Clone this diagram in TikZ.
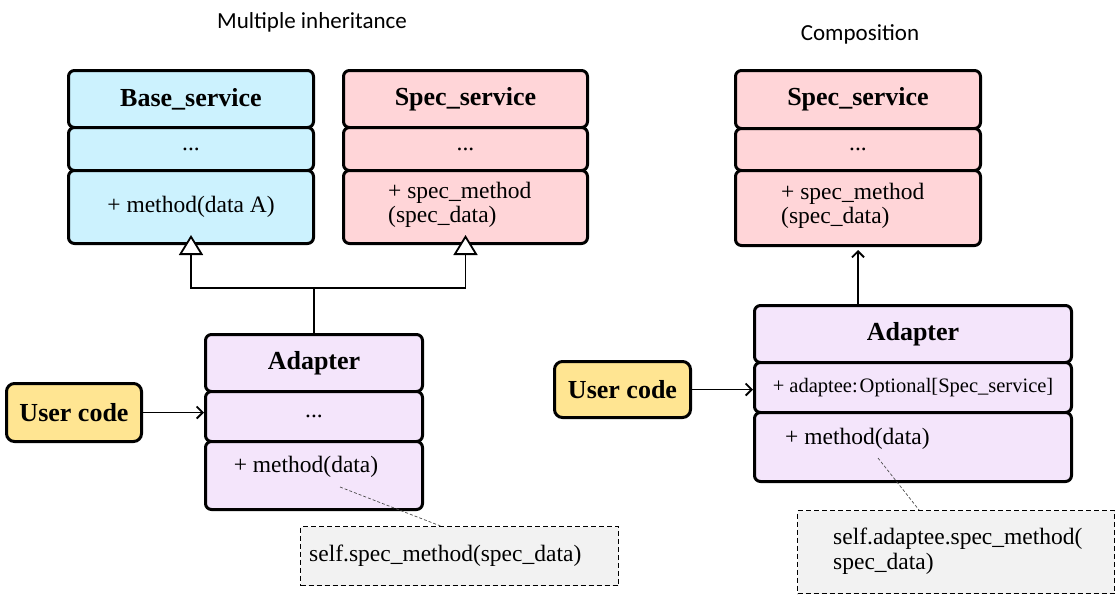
\documentclass[tikz,border=0pt]{standalone}
\usepackage{fontspec}
\setmainfont{Liberation Serif}
\newfontfamily\titlefont{Carlito}
\usetikzlibrary{arrows.meta}
\definecolor{cblue}{RGB}{204,242,254}
\definecolor{cpink}{RGB}{255,213,216}
\definecolor{clav}{RGB}{244,229,251}
\definecolor{cyel}{RGB}{255,229,146}
\definecolor{cnote}{RGB}{242,242,242}
\begin{document}
\begin{tikzpicture}[x=1pt,y=-1pt,
  sec/.style={draw, line width=3pt, rounded corners=6pt, inner sep=0pt, anchor=north west},
  hdr/.style={font=\fontsize{26}{28}\selectfont\bfseries},
  body/.style={font=\fontsize{23.5}{24.5}\selectfont, inner sep=0pt},
  small/.style={font=\fontsize{20.5}{22}\selectfont},
  usr/.style={sec, fill=cyel, rounded corners=8pt, font=\fontsize{26}{28}\selectfont\bfseries},
  notebox/.style={draw, dashed, dash pattern=on 5pt off 3pt, line width=1.1pt, fill=cnote, anchor=north west, inner sep=0pt},
  conn/.style={line width=1.8pt},
  inh/.style={conn, -{Triangle[width=24pt,length=20pt,fill=white]}},
  barb/.style={conn, -{Straight Barb[length=6pt,width=12pt]}},
  noteline/.style={draw=black!70, dashed, dash pattern=on 3pt off 2pt, line width=0.7pt},
  ttl/.style={font=\titlefont\fontsize{23}{26}\selectfont}
]
\useasboundingbox (0,0) rectangle (1120,606);

% titles
\node[ttl] (t1) at (312,22) {Multiple inheritance};
\node[ttl] (t2) at (860,34) {Composition};

% ---- left: Base_service
\node[sec, fill=cblue, minimum width=245pt, minimum height=57pt, hdr] (bs1) at (67,69) {Base\_service};
\node[sec, fill=cblue, minimum width=245pt, minimum height=43pt, body] (bs2) at (67,126) {...};
\node[sec, fill=cblue, minimum width=245pt, minimum height=73pt, body] (bs3) at (67,169) {+ method(data A)};

% ---- left: Spec_service
\node[sec, fill=cpink, minimum width=244pt, minimum height=57pt, hdr] (ssL1) at (342,69) {Spec\_service};
\node[sec, fill=cpink, minimum width=244pt, minimum height=43pt, body] (ssL2) at (342,126) {...};
\node[sec, fill=cpink, minimum width=244pt, minimum height=73pt] (ssL3) at (342,169) {};
\node[body, align=left, anchor=west] (ssL3t) at (388,205) {+ spec\_method\\(spec\_data)};

% ---- left: Adapter
\node[sec, fill=clav, minimum width=217pt, minimum height=57pt, hdr] (adL1) at (204,333) {Adapter};
\node[sec, fill=clav, minimum width=217pt, minimum height=50pt, body] (adL2) at (204,390) {...};
\node[sec, fill=clav, minimum width=217pt, minimum height=68pt] (adL3) at (204,440) {};
\node[body] (adL3t) at (306,467) {+ method(data)};

% ---- left: user code
\node[usr, minimum width=135pt, minimum height=58pt] (ucL) at (5,382) {User code};

% ---- left: note
\node[notebox, minimum width=318pt, minimum height=59pt] (noteL) at (300,526) {};
\node[body, anchor=west] (noteLt) at (309,556) {self.spec\_method(spec\_data)};

% ---- right: Spec_service
\node[sec, fill=cpink, minimum width=245pt, minimum height=58pt, hdr] (ssR1) at (734,69) {Spec\_service};
\node[sec, fill=cpink, minimum width=245pt, minimum height=42pt, body] (ssR2) at (734,127) {...};
\node[sec, fill=cpink, minimum width=245pt, minimum height=75pt] (ssR3) at (734,169) {};
\node[body, align=left, anchor=west] (ssR3t) at (781,206) {+ spec\_method\\(spec\_data)};

% ---- right: Adapter
\node[sec, fill=clav, minimum width=317pt, minimum height=57pt, hdr] (adR1) at (753,304) {Adapter};
\node[sec, fill=clav, minimum width=317pt, minimum height=50pt, small] (adR2) at (753,361) {+ adaptee:\hspace{2pt}Optional[Spec\_service]};
\node[sec, fill=clav, minimum width=317pt, minimum height=69pt] (adR3) at (753,411) {};
\node[body, anchor=west] (adR3t) at (785,439) {+ method(data)};

% ---- right: user code
\node[usr, minimum width=136pt, minimum height=56pt] (ucR) at (553,360) {User code};

% ---- right: note
\node[notebox, minimum width=317pt, minimum height=83pt] (noteR) at (797,510) {};
\node[body, align=left, anchor=west] (noteRt) at (833,551) {self.adaptee.spec\_method(\\spec\_data)};

% ---- connectors
\draw[conn] (adL1.north) -- ++(0,-45) coordinate (jL);
\draw[inh] (jL) -| ([yshift=10pt]bs3.south);
\draw[inh] (jL) -| ([yshift=10pt]ssL3.south);
\draw[barb] (ucL.east) -- (ucL.east -| adL2.west);

\draw[barb] (adR1.north -| ssR3.south) -- ([yshift=-3pt]ssR3.south);
\draw[barb] (ucR.east) -- (ucR.east -| adR2.west);

\coordinate (pL) at (340,487);
\draw[noteline] (pL) -- ([xshift=-19pt]noteL.north);
\coordinate (pR) at (878,458);
\draw[noteline] (pR) -- ([xshift=-37pt]noteR.north);
\end{tikzpicture}
\end{document}
